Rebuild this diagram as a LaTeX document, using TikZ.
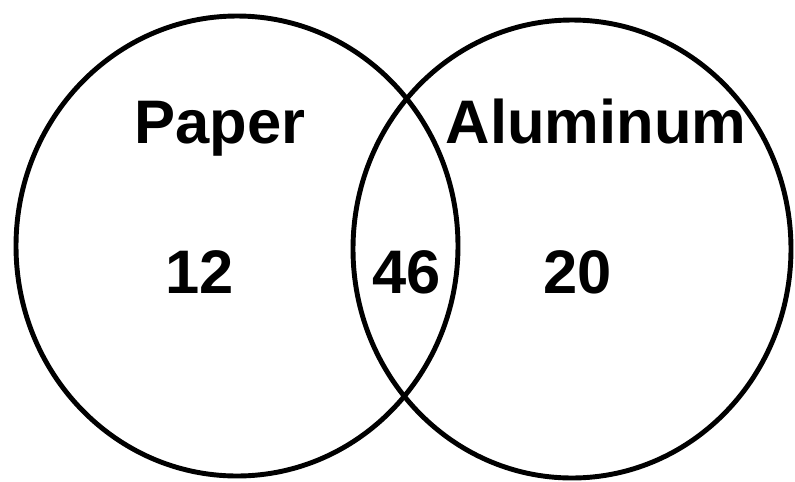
\documentclass[tikz,border=0pt]{standalone}
\usepackage{fontspec}
\setmainfont{Liberation Sans}
\begin{document}
\begin{tikzpicture}[x=0.02cm,y=-0.02cm,font=\fontsize{35}{40}\selectfont\bfseries]
        \useasboundingbox (0,0) rectangle (795,481);
        \draw[line width=2.8pt] (237,246) ellipse [x radius=221,y radius=230];
        \draw[line width=2.8pt] (572,249) ellipse [x radius=219,y radius=229];

        \node[anchor=base] (paper) at (220,143) {Paper};
        \node[anchor=base] (aluminum) at (596,143) {Aluminum};

        \node[anchor=base] (onlypaper) at (200,293) {12};
        \node[anchor=base] (both) at (407,293) {46};
        \node[anchor=base] (onlyalu) at (578,293) {20};
      \end{tikzpicture}
\end{document}
